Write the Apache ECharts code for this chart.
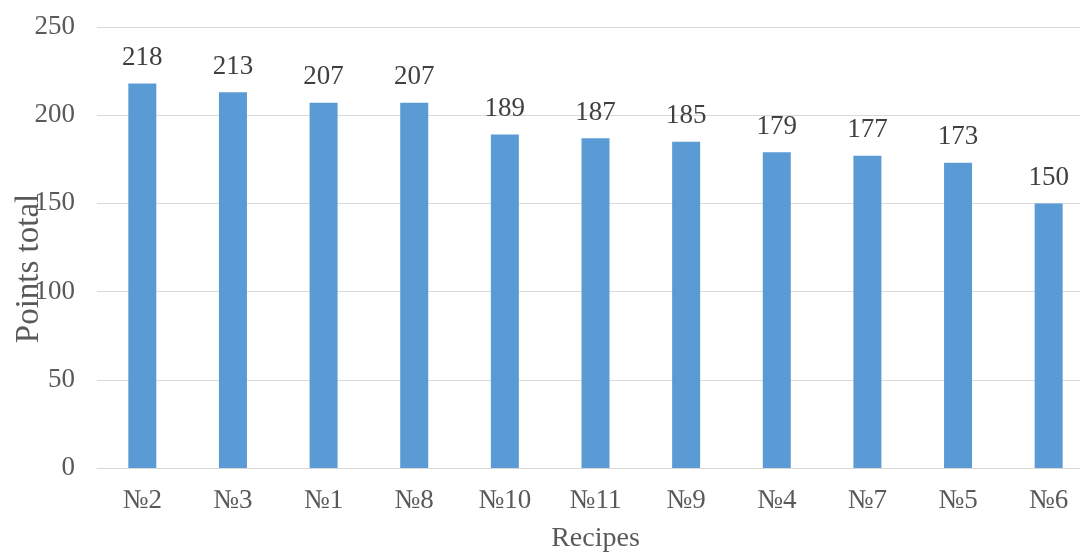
<!DOCTYPE html>
<html>
<head>
<meta charset="utf-8">
<script src="https://cdn.jsdelivr.net/npm/echarts@6/dist/echarts.min.js"></script>
<style>
html,body{margin:0;padding:0;background:#fff;}
#c{width:1080px;height:552px;}
</style>
</head>
<body>
<div id="c"></div>
<script>
const categories = ['№2','№3','№1','№8','№10','№11','№9','№4','№7','№5','№6'];
const values = [218,213,207,207,189,187,185,179,177,173,150];
const yTicks = [0,50,100,150,200,250];

const font = '"Liberation Serif","Times New Roman",serif';
const chart = echarts.init(document.getElementById('c'));
chart.setOption({
  animation: false,
  grid: {left: 97, right: -14, top: 27, bottom: 84, containLabel: false, outerBoundsMode: 'none'},
  xAxis: {
    type: 'category',
    data: categories,
    name: 'Recipes',
    nameLocation: 'middle',
    nameGap: 57,
    nameMoveOverlap: false,
    nameTextStyle: {fontFamily: font, fontSize: 28, color: '#595959'},
    axisLine: {lineStyle: {color: '#D9D9D9', width: 1}},
    axisTick: {show: false},
    axisLabel: {fontFamily: font, fontSize: 27, color: '#595959', margin: 19}
  },
  yAxis: {
    type: 'value',
    min: yTicks[0],
    max: yTicks[yTicks.length-1],
    interval: 50,
    name: 'Points total',
    nameLocation: 'middle',
    nameGap: 51,
    nameMoveOverlap: false,
    nameTextStyle: {fontFamily: font, fontSize: 33, color: '#595959', padding: [0, 42, 0, 0]},
    axisLine: {show: false},
    axisTick: {show: false},
    axisLabel: {fontFamily: font, fontSize: 27, color: '#595959', margin: 22},
    splitLine: {lineStyle: {color: '#D9D9D9', width: 1}}
  },
  series: [{
    type: 'bar',
    data: values,
    barWidth: 28,
    itemStyle: {color: '#5B9BD5'},
    label: {show: true, position: 'top', distance: 12, fontFamily: font, fontSize: 27, color: '#404040'}
  }]
});
</script>
</body>
</html>
